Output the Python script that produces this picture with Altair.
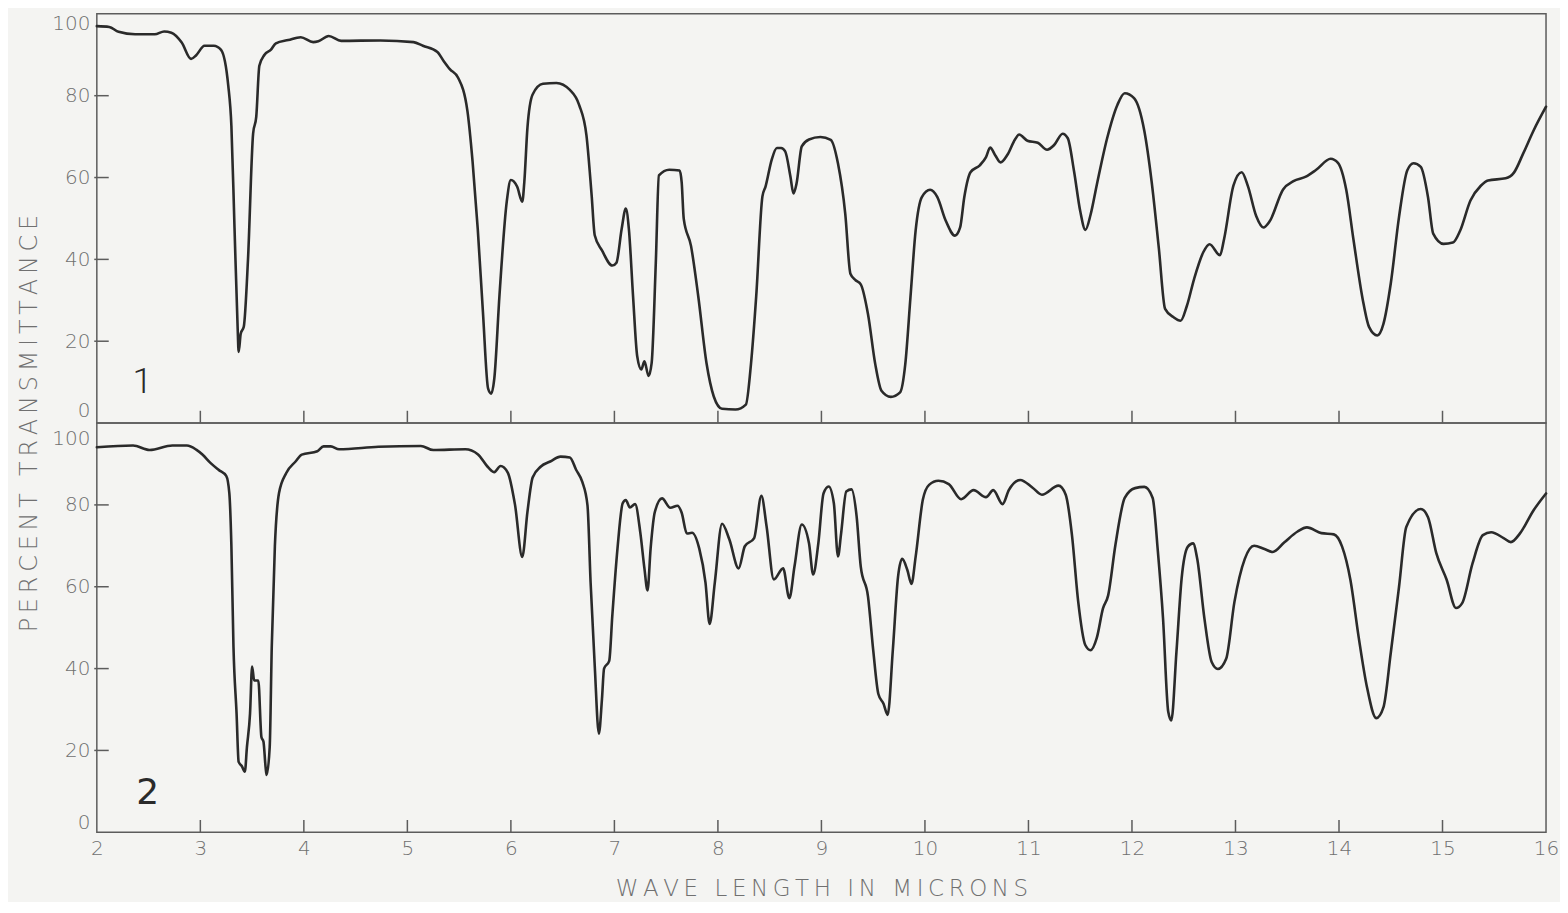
import altair as alt
import pandas as pd

# ---- spectrum 1 (top panel): wavelength (microns), percent transmittance
top_x = [2.00, 2.12, 2.21, 2.37, 2.56, 2.65, 2.72, 2.82, 2.91, 2.96, 3.04, 3.13, 3.20, 3.27, 3.30,
         3.33, 3.36, 3.37, 3.39, 3.42, 3.46, 3.51, 3.54, 3.57, 3.62, 3.68, 3.73, 3.85, 3.97, 4.09,
         4.14, 4.24, 4.36, 4.74, 5.06, 5.15, 5.29, 5.35, 5.41, 5.49, 5.58, 5.63, 5.68, 5.73, 5.78,
         5.81, 5.84, 5.89, 5.96, 6.00, 6.06, 6.11, 6.13, 6.16, 6.21, 6.31, 6.44, 6.57, 6.66, 6.73,
         6.78, 6.81, 6.88, 6.98, 7.02, 7.07, 7.11, 7.14, 7.18, 7.22, 7.26, 7.29, 7.33, 7.36, 7.40,
         7.43, 7.53, 7.63, 7.65, 7.67, 7.74, 7.81, 7.89, 7.96, 8.04, 8.17, 8.27, 8.32, 8.37, 8.43,
         8.46, 8.52, 8.57, 8.61, 8.65, 8.70, 8.73, 8.76, 8.81, 8.88, 8.99, 9.09, 9.16, 9.23, 9.28,
         9.33, 9.38, 9.45, 9.52, 9.58, 9.67, 9.76, 9.81, 9.86, 9.91, 9.97, 10.05, 10.12, 10.20, 10.29,
         10.34, 10.38, 10.44, 10.53, 10.59, 10.63, 10.68, 10.73, 10.80, 10.87, 10.91, 10.99, 11.09, 11.18, 11.25,
         11.33, 11.38, 11.44, 11.50, 11.55, 11.60, 11.66, 11.76, 11.86, 11.93, 12.02, 12.12, 12.19, 12.26, 12.32,
         12.40, 12.47, 12.53, 12.60, 12.69, 12.75, 12.85, 12.89, 12.98, 13.06, 13.12, 13.20, 13.27, 13.33, 13.46,
         13.56, 13.68, 13.78, 13.92, 13.99, 14.07, 14.14, 14.23, 14.29, 14.37, 14.43, 14.50, 14.58, 14.66, 14.72,
         14.79, 14.86, 14.91, 15.01, 15.10, 15.17, 15.27, 15.37, 15.44, 15.61, 15.69, 15.78, 15.88, 16.00]
top_t = [97.0, 96.8, 95.6, 95.0, 95.0, 95.7, 95.4, 93.0, 89.0, 89.9, 92.2, 92.2, 91.2, 82.4, 72.6,
         47.8, 23.6, 17.4, 21.8, 23.6, 39.8, 70.8, 74.8, 87.3, 90.0, 91.2, 92.8, 93.6, 94.3, 93.1,
         93.3, 94.6, 93.4, 93.5, 93.1, 92.2, 90.7, 88.5, 86.5, 84.4, 76.3, 63.9, 47.4, 27.1, 8.4,
         7.2, 10.9, 31.3, 54.1, 59.4, 57.8, 54.1, 59.0, 72.2, 80.3, 82.9, 83.1, 81.4, 77.7, 70.3,
         55.7, 45.9, 42.2, 38.5, 39.2, 47.4, 52.4, 47.4, 31.1, 16.4, 13.1, 15.1, 11.5, 14.7, 39.2,
         60.5, 61.9, 61.7, 58.8, 49.9, 43.3, 31.0, 14.6, 6.5, 3.5, 3.3, 4.5, 14.6, 31.0, 55.4,
         57.8, 64.4, 67.2, 67.2, 66.4, 60.3, 56.1, 58.6, 67.6, 69.3, 69.9, 69.2, 63.4, 51.2, 36.5,
         34.9, 33.9, 26.6, 14.4, 7.9, 6.4, 7.5, 14.4, 30.7, 47.0, 55.2, 57.0, 55.2, 49.5, 45.8,
         47.8, 55.2, 61.3, 63.0, 65.0, 67.3, 65.4, 63.7, 65.7, 69.3, 70.5, 69.0, 68.5, 66.8, 68.0,
         70.7, 69.6, 61.6, 51.8, 47.2, 50.9, 58.2, 69.6, 77.8, 80.6, 79.4, 71.3, 59.0, 42.6, 27.9,
         25.9, 25.0, 28.6, 35.2, 41.8, 43.7, 41.0, 45.0, 58.0, 61.3, 57.9, 50.6, 47.8, 49.3, 57.1,
         59.1, 60.2, 61.9, 64.6, 63.6, 57.0, 44.8, 30.1, 23.5, 21.4, 24.3, 34.1, 50.4, 61.8, 63.5,
         62.6, 55.2, 46.3, 43.8, 44.1, 47.0, 54.4, 58.0, 59.3, 59.8, 61.2, 65.9, 71.5, 77.3]

# ---- spectrum 2 (bottom panel)
bot_x = [2.00, 2.35, 2.51, 2.73, 2.87, 2.96, 3.02, 3.10, 3.18, 3.25, 3.28, 3.30, 3.32, 3.35, 3.37,
         3.40, 3.43, 3.45, 3.48, 3.50, 3.52, 3.56, 3.59, 3.61, 3.63, 3.64, 3.67, 3.69, 3.72, 3.76,
         3.83, 3.92, 3.98, 4.13, 4.19, 4.26, 4.34, 4.72, 5.13, 5.25, 5.56, 5.68, 5.78, 5.84, 5.90,
         5.97, 6.04, 6.11, 6.16, 6.21, 6.29, 6.38, 6.48, 6.57, 6.63, 6.69, 6.74, 6.77, 6.81, 6.85,
         6.88, 6.90, 6.95, 6.98, 7.03, 7.08, 7.11, 7.15, 7.20, 7.25, 7.29, 7.32, 7.35, 7.39, 7.46,
         7.54, 7.61, 7.65, 7.70, 7.75, 7.82, 7.88, 7.92, 7.97, 8.04, 8.11, 8.20, 8.26, 8.35, 8.42,
         8.47, 8.54, 8.63, 8.69, 8.74, 8.81, 8.88, 8.92, 8.97, 9.02, 9.07, 9.12, 9.16, 9.19, 9.24,
         9.29, 9.34, 9.38, 9.45, 9.50, 9.55, 9.60, 9.64, 9.69, 9.74, 9.78, 9.83, 9.87, 9.91, 9.98,
         10.04, 10.13, 10.23, 10.35, 10.47, 10.59, 10.66, 10.75, 10.81, 10.92, 11.04, 11.13, 11.29, 11.36, 11.42,
         11.48, 11.55, 11.60, 11.66, 11.72, 11.77, 11.84, 11.93, 12.03, 12.12, 12.20, 12.25, 12.30, 12.35, 12.38,
         12.43, 12.48, 12.54, 12.59, 12.63, 12.70, 12.77, 12.83, 12.91, 12.99, 13.09, 13.18, 13.28, 13.36, 13.47,
         13.60, 13.69, 13.83, 13.95, 14.03, 14.11, 14.19, 14.27, 14.36, 14.43, 14.50, 14.58, 14.65, 14.79, 14.86,
         14.94, 15.04, 15.13, 15.19, 15.29, 15.39, 15.47, 15.59, 15.66, 15.75, 15.88, 16.00]
bot_t = [94.1, 94.5, 93.4, 94.5, 94.5, 93.5, 92.3, 90.2, 88.5, 87.1, 82.9, 69.9, 45.4, 29.0, 17.2,
         16.2, 14.8, 20.8, 29.0, 40.5, 37.1, 37.1, 23.3, 22.1, 16.0, 14.0, 20.8, 45.4, 69.9, 82.9,
         87.8, 90.6, 92.3, 93.1, 94.3, 94.3, 93.6, 94.2, 94.4, 93.4, 93.6, 92.4, 89.2, 88.0, 89.5,
         87.9, 80.0, 67.3, 78.3, 86.7, 89.4, 90.6, 91.8, 91.6, 88.6, 85.6, 79.9, 61.1, 40.7, 24.1,
         32.6, 40.0, 41.9, 53.0, 69.4, 80.4, 81.2, 79.4, 80.2, 73.3, 64.5, 59.1, 69.4, 78.2, 81.6,
         79.3, 79.8, 78.1, 73.0, 73.2, 69.3, 61.0, 50.9, 61.0, 75.4, 71.6, 64.5, 69.9, 71.9, 82.2,
         74.8, 61.8, 64.5, 57.2, 65.0, 75.2, 70.6, 63.0, 70.6, 82.8, 84.5, 80.4, 67.4, 73.0, 83.3,
         83.8, 77.2, 64.9, 57.6, 44.6, 33.8, 31.4, 28.7, 44.6, 62.4, 66.8, 64.1, 60.7, 67.3, 81.3,
         84.9, 85.9, 85.1, 81.4, 83.6, 81.9, 83.6, 80.2, 83.6, 86.1, 84.2, 82.5, 84.7, 82.5, 72.7,
         56.5, 45.7, 44.5, 47.5, 54.7, 57.9, 70.2, 81.7, 84.1, 84.4, 81.7, 68.7, 52.3, 29.5, 27.3,
         44.2, 62.1, 69.8, 70.6, 66.9, 52.2, 41.6, 39.9, 42.4, 56.3, 66.8, 70.0, 69.2, 68.5, 70.8,
         73.5, 74.5, 73.1, 72.8, 69.8, 61.7, 47.7, 35.5, 27.9, 30.6, 43.8, 60.0, 74.6, 79.0, 77.0,
         68.2, 61.7, 54.8, 56.0, 65.7, 72.6, 73.3, 71.9, 70.9, 73.1, 78.7, 82.8]

x_tick_values = [3, 4, 5, 6, 7, 8, 9, 10, 11, 12, 13, 14, 15]
y_tick_values = [20, 40, 60, 80]
x_label_values = [2, 3, 4, 5, 6, 7, 8, 9, 10, 11, 12, 13, 14, 15, 16]
y_label_values = [0, 20, 40, 60, 80, 100]
panel_tags = ["1", "2"]
tag_x = [2.44, 2.49]
tag_y = [10.0, 9.5]

W, H = 1452, 410
INK = "#2a2a2a"
AX = "#5c5c5c"
TXT = "#707070"
FONT = "DejaVu Sans"
BG = "#f4f4f2"


def spaced(s):
    return "\u2009".join(s)


xs = alt.Scale(domain=[2, 16], nice=False, zero=False)
ys = alt.Scale(domain=[0, 100], nice=False, zero=False)


def panel(xv, tv, i, tag_font, tag_size, tag_weight, bottom):
    df = pd.DataFrame({"w": xv, "t": tv})
    if bottom:
        xaxis = alt.Axis(values=x_label_values, format="d", ticks=False, domain=False, grid=False,
                         labelFontSize=20, labelColor=TXT, labelFont=FONT, labelFontWeight=200,
                         labelPadding=6, labelFlush=False,
                         title=spaced("WAVE LENGTH IN MICRONS"), titleFontSize=23,
                         titleFont=FONT, titleFontWeight=200, titleColor=TXT, titlePadding=19)
        yaxis = alt.Axis(values=y_label_values, ticks=False, domain=False, grid=False,
                         labelFontSize=20, labelColor=TXT, labelFont=FONT, labelFontWeight=200,
                         labelPadding=7, labelFlush=True,
                         labelOffset={"condition": {"test": "datum.value == 100", "value": 5}, "value": 0},
                         title=None)
    else:
        xaxis = None
        yaxis = alt.Axis(values=y_label_values, ticks=False, domain=False, grid=False,
                         labelFontSize=20, labelColor=TXT, labelFont=FONT, labelFontWeight=200,
                         labelPadding=7, labelFlush=True,
                         labelOffset={"condition": {"test": "datum.value == 0", "value": -3}, "value": 0},
                         title=spaced("PERCENT TRANSMITTANCE"), titleFontSize=24,
                         titleFont=FONT, titleFontWeight=200, titleColor=TXT,
                         titleAngle=270, titleAlign="center", titleBaseline="middle",
                         titleX=-67, titleY=H)
    line = alt.Chart(df).mark_line(interpolate="monotone", color=INK, strokeWidth=2.6,
                                   strokeJoin="round", strokeCap="round").encode(
        x=alt.X("w:Q", scale=xs, axis=xaxis),
        y=alt.Y("t:Q", scale=ys, axis=yaxis),
    )
    xt = alt.Chart(pd.DataFrame({"w": x_tick_values})).mark_rule(color=AX, strokeWidth=1.5).encode(
        x=alt.X("w:Q", scale=xs), y=alt.datum(0), y2=alt.datum(3))
    yt = alt.Chart(pd.DataFrame({"t": y_tick_values})).mark_rule(color=AX, strokeWidth=1.5).encode(
        y=alt.Y("t:Q", scale=ys), x=alt.datum(1.975), x2=alt.datum(2.115))
    lab = alt.Chart(pd.DataFrame({"s": [panel_tags[i]]})).mark_text(
        fontSize=tag_size, font=tag_font, color=INK, fontWeight=tag_weight).encode(
        text="s:N", x=alt.datum(tag_x[i]), y=alt.datum(tag_y[i]))
    return alt.layer(line, xt, yt, lab).properties(width=W, height=H)


top = panel(top_x, top_t, 0, "Roboto", 36, 300, False)
bot = panel(bot_x, bot_t, 1, FONT, 36, "normal", True)

chart = alt.vconcat(top, bot, spacing=0, bounds="flush").properties(
    background=BG, padding={"left": 9, "top": 4, "right": 0, "bottom": 0}
).configure_view(stroke=AX, strokeWidth=1.5)

chart.save("out.html", embed_options={"renderer": "svg", "actions": False})
